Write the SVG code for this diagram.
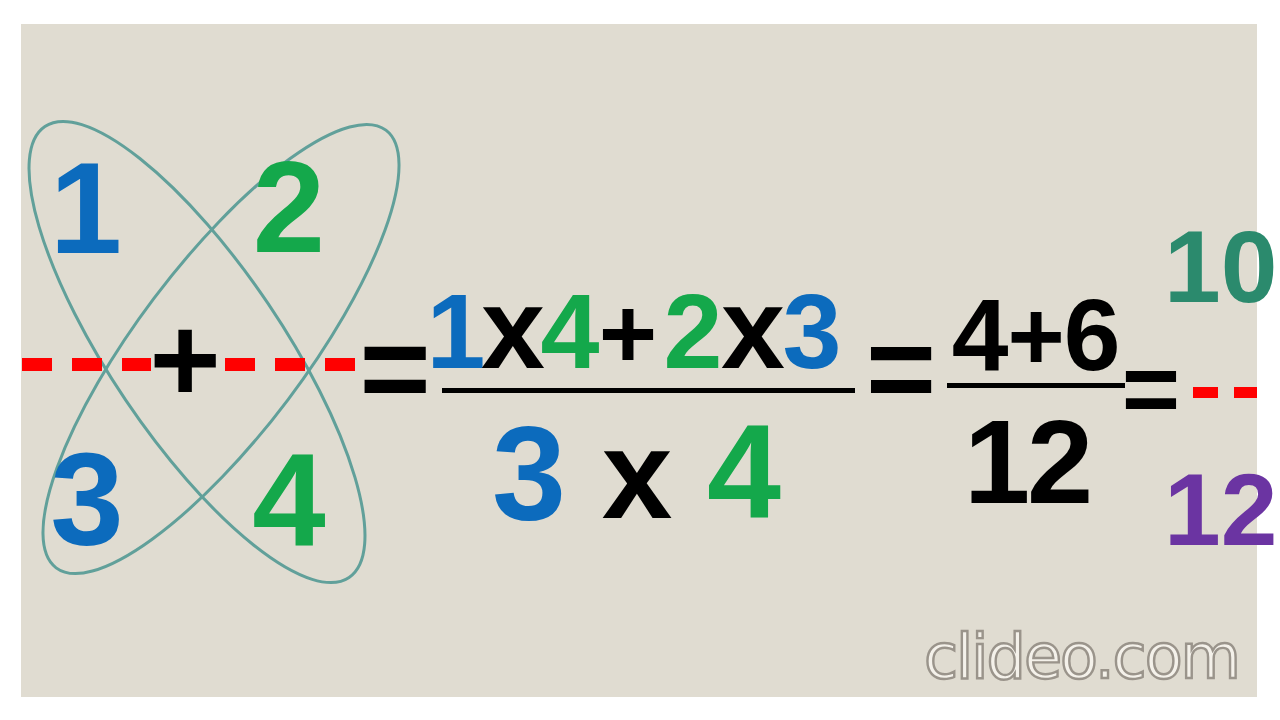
<svg xmlns="http://www.w3.org/2000/svg" width="1280" height="720" viewBox="0 0 1280 720">
<style>
.d{font-family:"Liberation Sans",Arial,sans-serif;font-weight:bold;text-anchor:middle}
.r{font-family:"Liberation Sans",Arial,sans-serif;font-weight:bold}
.blue{fill:#0c6bbd}
.green{fill:#14a84b}
.blk{fill:#000}
.teal{fill:#2b8a6d}
.purple{fill:#6b34a2}
.ell{fill:none;stroke:#61a09a;stroke-width:3}
.dash{fill:#f00}
.wm{font-family:"DejaVu Sans","Liberation Sans",sans-serif;font-size:62px;letter-spacing:-2px;fill:#f4f1ea;stroke:#9a948b;stroke-width:2.4}
</style>
<rect width="1280" height="720" fill="#fff"/>
<rect x="21" y="24" width="1236" height="673" fill="#e0dcd1"/>
<g id="connectors">
<ellipse class="ell" cx="197" cy="352" rx="272" ry="86" transform="rotate(56 197 352)"/>
<ellipse class="ell" cx="221" cy="349" rx="274" ry="84" transform="rotate(-53 221 349)"/>
<rect class="dash" x="22" y="358" width="30" height="13"/>
<rect class="dash" x="72" y="358" width="30" height="13"/>
<rect class="dash" x="122" y="358" width="29" height="13"/>
<rect class="dash" x="225" y="358" width="30" height="13"/>
<rect class="dash" x="275" y="358" width="30" height="13"/>
<rect class="dash" x="325" y="358" width="30" height="13"/>
<rect class="dash" x="1193" y="387" width="25" height="11"/>
<rect class="dash" x="1234" y="387" width="23" height="11"/>
<rect x="442" y="388" width="413" height="5" fill="#000"/>
<rect x="947" y="383" width="178" height="5" fill="#000"/>
</g>
<g id="left-fraction">
<text class="d blue" x="86" y="253" font-size="130">1</text>
<text class="d green" x="289" y="252" font-size="130">2</text>
<text class="d blue" x="87" y="545" font-size="132">3</text>
<text class="d green" x="289" y="545" font-size="132">4</text>
<text class="d blk" x="185" y="402" font-size="122">+</text>
</g>
<g id="eq1"><text class="d blk" x="395" y="410" font-size="122">=</text></g>
<g id="numerator">
<text class="d blue" x="456" y="368" font-size="106">1</text>
<text class="d blk" x="513" y="368" font-size="115">x</text>
<text class="d green" x="570" y="368" font-size="106">4</text>
<text class="d blk" x="628" y="368" font-size="100">+</text>
<text class="d green" x="693" y="368" font-size="106">2</text>
<text class="d blk" x="753" y="368" font-size="115">x</text>
<text class="d blue" x="812" y="368" font-size="106">3</text>
</g>
<g id="denominator">
<text class="d blue" x="529" y="520" font-size="133">3</text>
<text class="d blk" x="637" y="518" font-size="127">x</text>
<text class="d green" x="744" y="518" font-size="133">4</text>
</g>
<g id="eq2"><text class="d blk" x="901" y="410" font-size="120">=</text></g>
<g id="fraction2">
<text class="d blk" x="980" y="370" font-size="102">4</text>
<text class="d blk" x="1036" y="370" font-size="98">+</text>
<text class="d blk" x="1092" y="370" font-size="102">6</text>
<text class="d blk" x="997" y="503" font-size="119">1</text>
<text class="d blk" x="1060" y="503" font-size="119">2</text>
</g>
<g id="eq3"><text class="d blk" x="1151" y="423" font-size="100">=</text></g>
<g id="result">
<text class="r teal" x="1164" y="302" font-size="102">10</text>
<text class="r purple" x="1164" y="545" font-size="102">12</text>
</g>
<g id="watermark"><text class="wm" x="924" y="678">clideo.com</text></g>
</svg>
